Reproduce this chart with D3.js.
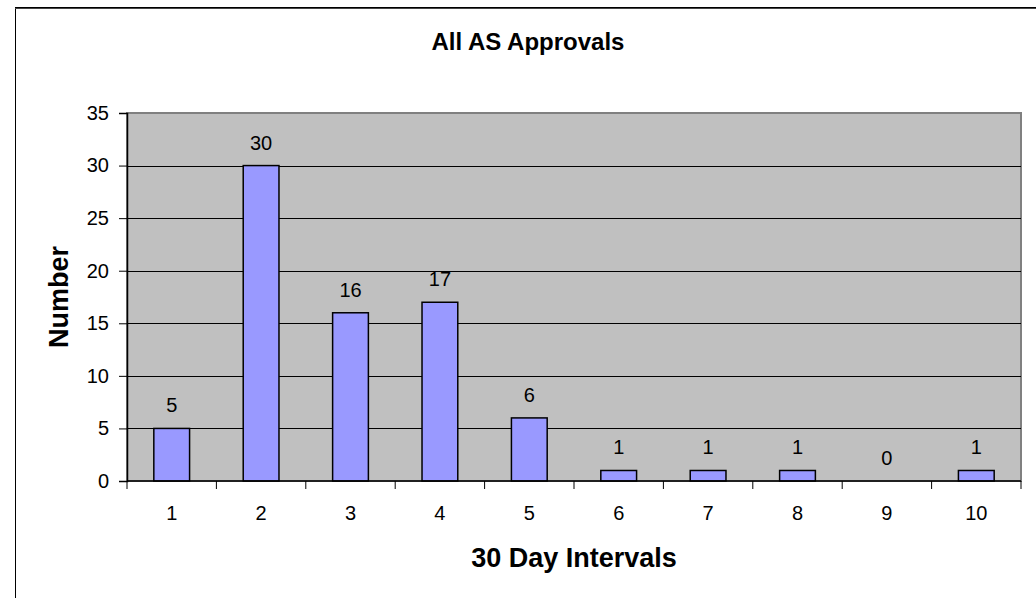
<!DOCTYPE html>
<html><head><meta charset="utf-8">
<script src="https://cdn.jsdelivr.net/npm/d3@7"></script>
<style>body{margin:0;background:#fff}svg{display:block;font-family:Arial,"Liberation Sans",sans-serif}</style>
</head><body>
<svg id="c" width="1036" height="598"></svg>
<script>
const categories = ["1","2","3","4","5","6","7","8","9","10"];
const values = [5,30,16,17,6,1,1,1,0,1];
const yTicks = [0,5,10,15,20,25,30,35];
const title = "All AS Approvals";
const xTitle = "30 Day Intervals";
const yTitle = "Number";

const svg = d3.select("#c");
const L = 127, R = 1021, T = 113, B = 481;

// outer chart border (extends beyond window on right/bottom)
svg.append("rect").attr("x",15.5).attr("y",7.5).attr("width",1040).attr("height",600)
  .attr("fill","#fff").attr("stroke","#000").attr("stroke-width",1);
svg.append("line").attr("x1",15).attr("x2",1036).attr("y1",8.5).attr("y2",8.5).attr("stroke","#444").attr("stroke-width",1);

const x = d3.scaleBand().domain(categories).range([L,R]).paddingInner(0.6).paddingOuter(0.3);
const xc = d3.scaleBand().domain(categories).range([L,R]);
const y = d3.scaleLinear().domain([0,35]).range([B,T]);

// plot background
svg.append("rect").attr("x",L).attr("y",T).attr("width",R-L).attr("height",B-T)
  .attr("fill","#C0C0C0").attr("stroke","#808080").attr("stroke-width",2);

// gridlines
svg.append("g").selectAll("line").data(yTicks.filter(d=>d>0 && d<35)).join("line")
  .attr("x1",L).attr("x2",R).attr("y1",d=>Math.round(y(d))+0.5).attr("y2",d=>Math.round(y(d))+0.5)
  .attr("stroke","#000").attr("stroke-width",1);

// bars
svg.append("g").selectAll("rect").data(values).join("rect")
  .attr("x",(d,i)=>x(categories[i])).attr("width",x.bandwidth())
  .attr("y",d=>y(d)).attr("height",d=>B-y(d))
  .attr("fill","#9999FF").attr("stroke","#000").attr("stroke-width",1.5)
  .attr("display",d=>d>0?null:"none");

// data labels
svg.append("g").selectAll("text").data(values).join("text")
  .attr("x",(d,i)=>x(categories[i])+x.bandwidth()/2).attr("y",d=>y(d)-16)
  .attr("text-anchor","middle").attr("font-size",20).attr("fill","#000").text(d=>d);

// y axis
const yAxis = d3.axisLeft(y).tickValues(yTicks).tickSize(8).tickPadding(10);
const gy = svg.append("g").attr("transform",`translate(${L},0)`).call(yAxis);
gy.select(".domain").attr("stroke","#000").attr("stroke-width",1.5);
gy.selectAll(".tick line").attr("stroke","#000");
gy.selectAll("text").attr("font-size",20).attr("fill","#000").attr("font-family","Arial, 'Liberation Sans', sans-serif");

// x axis
const gx = svg.append("g").attr("transform",`translate(0,${B})`);
gx.append("line").attr("x1",L).attr("x2",R).attr("y1",0).attr("y2",0).attr("stroke","#000").attr("stroke-width",1.5);
const bounds = categories.map(c=>xc(c)).concat([R]);
gx.selectAll("line.t").data(bounds).join("line").attr("class","t")
  .attr("x1",d=>d).attr("x2",d=>d).attr("y1",0).attr("y2",8).attr("stroke","#000");
gx.selectAll("text").data(categories).join("text")
  .attr("x",d=>xc(d)+xc.bandwidth()/2).attr("y",39).attr("text-anchor","middle")
  .attr("font-size",20).attr("fill","#000").text(d=>d);

// titles
svg.append("text").attr("x",528).attr("y",50).attr("text-anchor","middle")
  .attr("font-size",24).attr("font-weight","bold").text(title);
svg.append("text").attr("x",(L+R)/2).attr("y",567).attr("text-anchor","middle")
  .attr("font-size",27).attr("font-weight","bold").text(xTitle);
svg.append("text").attr("transform",`translate(68,${(T+B)/2}) rotate(-90)`).attr("text-anchor","middle")
  .attr("font-size",27).attr("font-weight","bold").text(yTitle);
</script>
</body></html>
